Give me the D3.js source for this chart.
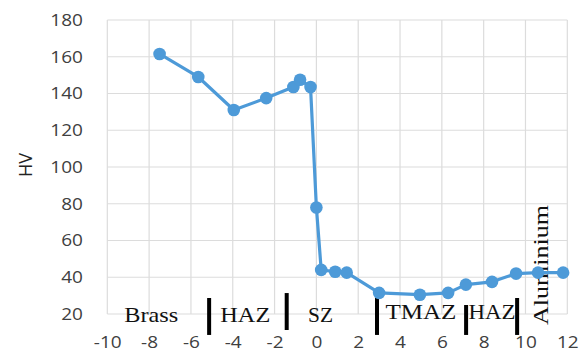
<!DOCTYPE html>
<html>
<head>
<meta charset="utf-8">
<script src="https://cdn.jsdelivr.net/npm/d3@7"></script>
<style>
  body { margin: 0; background: #fff; }
  svg { display: block; }
</style>
</head>
<body>
<div id="chart"></div>
<script>
// hardness profile across the weld (distance in mm vs HV)
var distance = [-7.5, -5.65, -3.95, -2.4, -1.1, -0.78, -0.28, 0.0, 0.23, 0.9, 1.45, 3.0, 4.95, 6.3, 7.15, 8.4, 9.55, 10.6, 11.8];
var hardness = [161.5, 149, 131, 137.5, 143.5, 147.5, 143.5, 78, 44, 43, 42.5, 31.5, 30.5, 31.5, 36, 37.5, 42, 42.5, 42.5];

var xTicks = [-10, -8, -6, -4, -2, 0, 2, 4, 6, 8, 10, 12];
var yTicks = [20, 40, 60, 80, 100, 120, 140, 160, 180];

// zone boundary markers (x position, top and bottom in HV units)
var boundX = [-5.13, -1.42, 2.9, 7.16, 9.6];
var boundTop = [28.7, 31.4, 28.7, 24.9, 28.7];
var boundBot = [8.6, 11.3, 8.6, 8.6, 8.6];

// zone names under the curve
var zoneNames = ["Brass", "HAZ", "SZ", "TMAZ", "HAZ"];
var zoneX = [-7.9, -3.4, 0.2, 5.0, 8.4];
var zoneY = [15.4, 15.4, 15.4, 17.4, 17.4];

var W = 582, H = 350;
var blue = "#4d9ad8";

var svg = d3.select("#chart").append("svg")
    .attr("width", W)
    .attr("height", H);

svg.append("rect")
    .attr("width", W).attr("height", H)
    .attr("fill", "#fff");

var x = d3.scaleLinear().domain([-10, 12]).range([107.3, 567.3]);
var y = d3.scaleLinear().domain([20, 180]).range([314, 20]);

// gridlines
var grid = svg.append("g");
grid.selectAll("line.v")
    .data(xTicks)
    .enter().append("line")
    .attr("class", "v")
    .attr("x1", function(d) { return x(d); })
    .attr("x2", function(d) { return x(d); })
    .attr("y1", y(20)).attr("y2", y(180))
    .attr("stroke", "#dcdcdc")
    .attr("stroke-width", 1.2);
grid.selectAll("line.h")
    .data(yTicks)
    .enter().append("line")
    .attr("class", "h")
    .attr("x1", x(-10)).attr("x2", x(12))
    .attr("y1", function(d) { return y(d); })
    .attr("y2", function(d) { return y(d); })
    .attr("stroke", "#dcdcdc")
    .attr("stroke-width", 1.2);

// axes (labels only)
var xAxis = svg.append("g")
    .attr("transform", "translate(0," + 335.5 + ")")
    .call(d3.axisBottom(x).tickValues(xTicks).tickSize(0).tickPadding(0)
        .tickFormat(function(d) { return d < 0 ? "-" + Math.abs(d) : d; }));
xAxis.select(".domain").remove();
xAxis.selectAll("text")
    .attr("font-family", "'Open Sans', sans-serif")
    .attr("font-size", 17)
    .attr("fill", "#404040")
    .attr("transform", "scale(1.12,1)")
    .attr("x", 0);

var yAxis = svg.append("g")
    .attr("transform", "translate(" + 83 + ",0)")
    .call(d3.axisLeft(y).tickValues(yTicks).tickSize(0).tickPadding(0));
yAxis.select(".domain").remove();
yAxis.selectAll("text")
    .attr("font-family", "'Open Sans', sans-serif")
    .attr("font-size", 17)
    .attr("fill", "#404040")
    .attr("transform", "scale(1.12,1)");

svg.append("text")
    .attr("transform", "translate(32," + 165 + ") rotate(-90)")
    .attr("text-anchor", "middle")
    .attr("font-family", "'Open Sans', sans-serif")
    .attr("font-size", 18)
    .attr("fill", "#222")
    .text("HV");

// zone boundary bars
svg.append("g").selectAll("line")
    .data(boundX)
    .enter().append("line")
    .attr("x1", function(d) { return x(d); })
    .attr("x2", function(d) { return x(d); })
    .attr("y1", function(d, i) { return y(boundTop[i]); })
    .attr("y2", function(d, i) { return y(boundBot[i]); })
    .attr("stroke", "#000")
    .attr("stroke-width", 4);

// zone labels
svg.append("g").selectAll("text")
    .data(zoneNames)
    .enter().append("text")
    .attr("x", function(d, i) { return x(zoneX[i]); })
    .attr("y", function(d, i) { return y(zoneY[i]); })
    .attr("text-anchor", "middle")
    .attr("font-family", "'Liberation Serif', 'Times New Roman', serif")
    .attr("font-size", function(d, i) { return i >= 3 ? 20 : 21; })
    .attr("fill", "#111")
    .attr("textLength", function(d, i) { return [54, 50, 25, 71, 47][i]; })
    .attr("lengthAdjust", "spacingAndGlyphs")
    .text(function(d) { return d; });

svg.append("text")
    .attr("transform", "translate(" + 548 + "," + 325 + ") rotate(-90)")
    .attr("font-family", "'Liberation Serif', 'Times New Roman', serif")
    .attr("font-size", 20)
    .attr("fill", "#111")
    .attr("textLength", 120)
    .attr("lengthAdjust", "spacingAndGlyphs")
    .text("Aluminium");

// hardness curve
var pts = distance.map(function(d, i) { return [d, hardness[i]]; });
var line = d3.line()
    .x(function(d) { return x(d[0]); })
    .y(function(d) { return y(d[1]); });

svg.append("path")
    .datum(pts)
    .attr("d", line)
    .attr("fill", "none")
    .attr("stroke", blue)
    .attr("stroke-width", 3.2)
    .attr("stroke-linejoin", "round");

svg.append("g").selectAll("circle")
    .data(pts)
    .enter().append("circle")
    .attr("cx", function(d) { return x(d[0]); })
    .attr("cy", function(d) { return y(d[1]); })
    .attr("r", 6.3)
    .attr("fill", blue);
</script>
</body>
</html>
